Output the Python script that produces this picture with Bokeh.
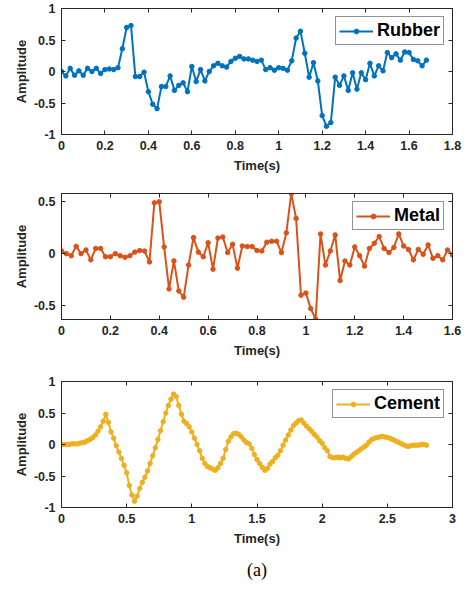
import numpy as np
from bokeh.plotting import figure
from bokeh.layouts import column
from bokeh.models import (Range1d, FixedTicker, LinearAxis, CustomJSTickFormatter,
                          Legend, LegendItem, Title)
from bokeh.embed import file_html
from bokeh.resources import INLINE

rubber = [0.00, -0.07, 0.05, -0.06, 0.01, -0.06, 0.05, 0.00, 0.05, -0.03,
          0.03, 0.04, 0.03, 0.06, 0.36, 0.70, 0.73, -0.08, -0.08, -0.01,
          -0.32, -0.52, -0.59, -0.24, -0.24, -0.07, -0.30, -0.22, -0.18, -0.32,
          0.08, -0.16, 0.03, -0.15, 0.00, 0.09, 0.13, 0.09, 0.07, 0.16,
          0.21, 0.24, 0.20, 0.20, 0.18, 0.16, 0.18, 0.03, 0.06, 0.02,
          0.06, 0.05, 0.02, 0.17, 0.53, 0.64, 0.29, -0.09, 0.14, -0.15,
          -0.70, -0.87, -0.81, -0.09, -0.22, -0.07, -0.30, -0.02, -0.28, -0.02,
          -0.13, 0.13, -0.07, 0.09, 0.01, 0.30, 0.22, 0.28, 0.18, 0.31,
          0.30, 0.19, 0.17, 0.09, 0.18]

metal = [0.026, 0.00, -0.02, 0.07, 0.00, 0.035, -0.06, 0.05, 0.05, -0.03,
         -0.03, 0.00, -0.02, -0.035, -0.02, 0.015, 0.03, 0.025, -0.08, 0.49,
         0.50, 0.065, -0.34, -0.07, -0.36, -0.42, -0.11, 0.155, 0.015, -0.03,
         0.105, -0.15, 0.15, 0.16, 0.01, 0.09, -0.14, 0.074, 0.068, 0.068,
         0.03, 0.026, 0.11, 0.12, 0.12, 0.01, 0.20, 0.58, 0.34, -0.40,
         -0.38, -0.53, -0.63, 0.19, -0.11, 0.026, 0.18, -0.26, -0.07, -0.11,
         0.065, -0.02, -0.12, 0.05, 0.10, 0.165, 0.05, 0.01, 0.06, 0.19,
         0.074, 0.04, -0.06, 0.04, -0.006, 0.084, -0.045, -0.02, -0.06, 0.035,
         -0.013]

cement = [0.00, 0.00, 0.00, 0.00, 0.01, 0.01, 0.01, 0.02, 0.03, 0.04,
          0.06, 0.08, 0.11, 0.15, 0.21, 0.28, 0.37, 0.48, 0.35, 0.20,
          0.10, -0.02, -0.12, -0.22, -0.33, -0.45, -0.65, -0.80, -0.90, -0.82,
          -0.70, -0.60, -0.52, -0.42, -0.30, -0.18, -0.05, 0.08, 0.22, 0.36,
          0.50, 0.62, 0.72, 0.80, 0.76, 0.62, 0.48, 0.37, 0.33, 0.28,
          0.20, 0.10, 0.00, -0.10, -0.22, -0.30, -0.35, -0.37, -0.39, -0.41,
          -0.37, -0.30, -0.22, -0.08, 0.05, 0.12, 0.17, 0.18, 0.16, 0.12,
          0.07, 0.03, 0.01, -0.06, -0.16, -0.24, -0.30, -0.36, -0.41, -0.38,
          -0.31, -0.27, -0.21, -0.17, -0.10, -0.01, 0.07, 0.15, 0.23, 0.30,
          0.34, 0.38, 0.39, 0.34, 0.29, 0.25, 0.21, 0.16, 0.12, 0.06,
          0.02, -0.05, -0.10, -0.19, -0.21, -0.21, -0.20, -0.21, -0.20, -0.22,
          -0.23, -0.20, -0.16, -0.13, -0.10, -0.07, -0.04, -0.01, 0.04, 0.08,
          0.10, 0.11, 0.12, 0.13, 0.12, 0.11, 0.10, 0.08, 0.06, 0.04,
          0.02, 0.00, -0.02, -0.03, -0.02, -0.01, -0.01, -0.01, 0.00, 0.00,
          -0.01]

dt = 0.02
labels = ["Rubber", "Metal", "Cement"]
colors = ["#0072BD", "#D95319", "#EDB120"]
xticks = [[0, 0.2, 0.4, 0.6, 0.8, 1.0, 1.2, 1.4, 1.6, 1.8],
          [0, 0.2, 0.4, 0.6, 0.8, 1.0, 1.2, 1.4, 1.6],
          [0, 0.5, 1.0, 1.5, 2.0, 2.5, 3.0]]
yticks = [[-1, -0.5, 0, 0.5, 1], [-0.5, 0, 0.5], [-1, -0.5, 0, 0.5, 1]]
xranges = [(0, 1.8), (0, 1.6), (0, 3)]
yranges = [(-1, 1), (-0.635, 0.58), (-1, 1)]
series = [rubber, metal, cement]

FONT = "Liberation Sans"
AX = "#262626"
fmt = CustomJSTickFormatter(code="return String(Math.round(tick*10)/10);")

heights = [180, 187, 224]
tops = [8, 13, 14]
bottoms = [46, 48, 84]

figs = []
for i in range(3):
    p = figure(width=466, height=heights[i], output_backend="svg", toolbar_location=None,
               x_range=Range1d(*xranges[i]), y_range=Range1d(*yranges[i]),
               min_border_left=61, min_border_right=14,
               min_border_top=tops[i], min_border_bottom=bottoms[i])
    p.background_fill_color = "white"
    p.border_fill_color = "white"
    p.outline_line_color = AX
    p.outline_line_width = 1
    p.xgrid.visible = False
    p.ygrid.visible = False
    for ax in (p.xaxis[0], p.yaxis[0]):
        ax.formatter = fmt
        ax.major_tick_in = 4
        ax.major_tick_out = 0
        ax.minor_tick_line_color = None
        ax.axis_line_color = AX
        ax.major_tick_line_color = AX
        ax.major_label_text_font = FONT
        ax.major_label_text_font_style = "bold"
        ax.major_label_text_font_size = "12.5px"
        ax.major_label_text_color = AX
        ax.axis_label_text_font = FONT
        ax.axis_label_text_font_style = "bold"
        ax.axis_label_text_font_size = "13px"
        ax.axis_label_text_color = AX
    p.xaxis[0].ticker = FixedTicker(ticks=xticks[i])
    p.yaxis[0].ticker = FixedTicker(ticks=yticks[i])
    p.xaxis[0].axis_label = "Time(s)"
    p.yaxis[0].axis_label = "Amplitude"
    p.xaxis[0].axis_label_standoff = 5
    p.yaxis[0].axis_label_standoff = 2
    p.xaxis[0].major_label_standoff = 6
    p.yaxis[0].major_label_standoff = 6
    # box ticks on top/right (no labels)
    for loc, tk in (("above", xticks[i]), ("right", yticks[i])):
        a = LinearAxis(ticker=FixedTicker(ticks=tk), major_tick_in=4, major_tick_out=0,
                       minor_tick_line_color=None, axis_line_color=AX,
                       major_tick_line_color=AX, major_label_text_color=None,
                       major_label_text_font_size="1px", major_label_standoff=0)
        p.add_layout(a, loc)

    y = series[i]
    x = np.round(np.arange(len(y)) * dt, 2)
    r1 = p.line(x, y, line_color=colors[i], line_width=2)
    r2 = p.scatter(x, y, size=4.5, fill_color=colors[i], line_color=colors[i])
    leg = Legend(items=[LegendItem(label=labels[i], renderers=[r1, r2])],
                 location="top_right", label_text_font=FONT, label_text_font_style="bold",
                 label_text_font_size="18px", label_text_color="black",
                 border_line_color="#262626", border_line_width=1,
                 glyph_width=34, glyph_height=12, label_standoff=4,
                 padding=3, margin=8, spacing=0, background_fill_alpha=1,
                 label_height=20)
    p.add_layout(leg)
    figs.append(p)

figs[2].add_layout(Title(text="(a)", text_font="Liberation Serif", text_font_size="18px",
                         text_font_style="normal", align="center", text_color="black",
                         standoff=19), "below")

layout = column(*figs, spacing=0)
open("out.html", "w").write(file_html(layout, INLINE))
